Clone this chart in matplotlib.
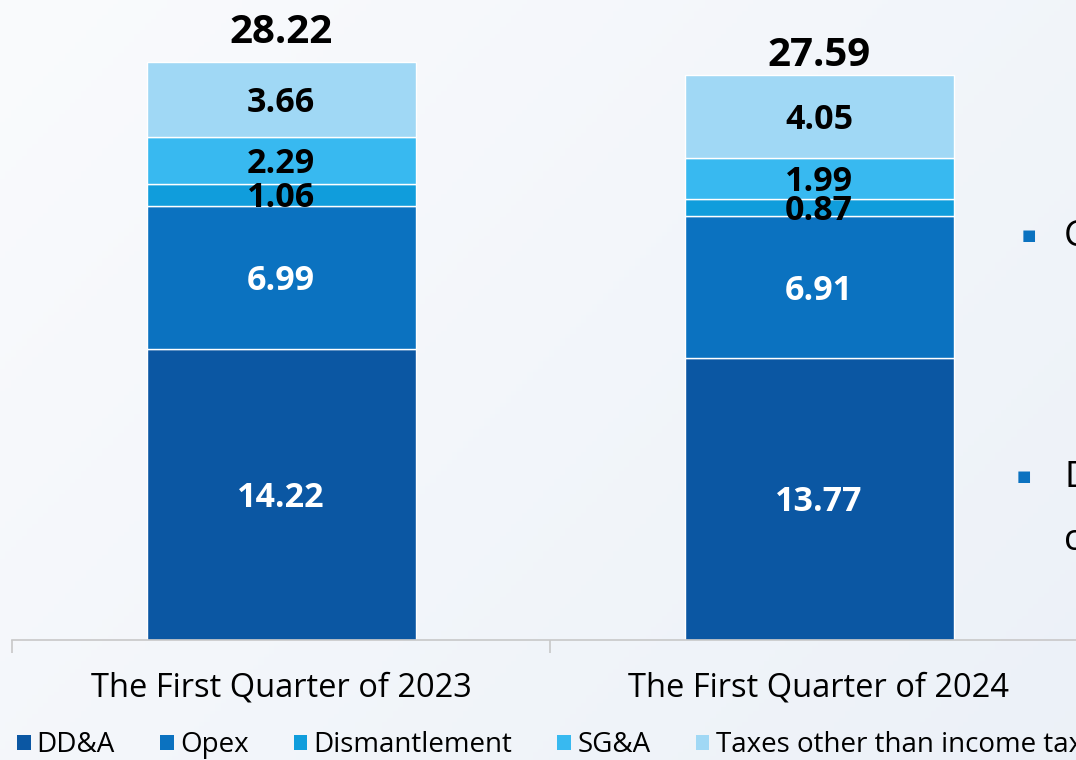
import matplotlib
matplotlib.use("Agg")
import matplotlib.pyplot as plt
import numpy as np
from matplotlib.patches import Patch

plt.rcParams['font.family'] = ['Open Sans', 'DejaVu Sans']

categories = ["The First Quarter of 2023", "The First Quarter of 2024"]
series_names = ["DD&A", "Opex", "Dismantlement", "SG&A", "Taxes other than income tax"]
dda = [14.22, 13.77]
opex = [6.99, 6.91]
dismantlement = [1.06, 0.87]
sga = [2.29, 1.99]
taxes = [3.66, 4.05]
totals = [28.22, 27.59]

colors = ["#0B57A3", "#0B72C0", "#109DDC", "#38B9F0", "#A0D8F5"]
label_colors = ["white", "white", "black", "black", "black"]

W, H = 1076, 760
fig = plt.figure(figsize=(W / 100, H / 100), dpi=100)

# background gradient
bg = fig.add_axes([0, 0, 1, 1], zorder=-10)
gx = np.linspace(0, 1, 200)
gy = np.linspace(0, 1, 200)
GX, GY = np.meshgrid(gx, gy)
t = (GX * 0.6 + GY * 0.4)
c0 = np.array([0.980, 0.984, 0.992])
c1 = np.array([0.925, 0.945, 0.972])
img = c0[None, None, :] * (1 - t[..., None]) + c1[None, None, :] * t[..., None]
bg.imshow(img, aspect='auto', extent=[0, 1, 0, 1], origin='upper')
bg.axis('off')

# main axes: baseline at y=640 px, category span 538 px starting at x=12
ax = fig.add_axes([12 / W, (H - 640) / H, 1076 / W, 640 / H])
ax.patch.set_alpha(0)
ymax = 640 / (578 / 28.22)
ax.set_ylim(0, ymax)
ax.set_xlim(0, 2)

x = np.array([0.5, 1.5])
series = [dda, opex, dismantlement, sga, taxes]
bottom = np.zeros(2)
for vals, col, lc in zip(series, colors, label_colors):
    vals = np.array(vals)
    ax.bar(x, vals, width=0.5, bottom=bottom, color=col,
           edgecolor='white', linewidth=1.0, zorder=2)
    for xi, b, v in zip(x, bottom, vals):
        ax.annotate(f"{v:.2f}", (xi, b + v / 2), xytext=(0, -2.5), textcoords='offset points',
                    ha='center', va='center', fontsize=24.5, fontweight='bold', color=lc, zorder=3)
    bottom = bottom + vals

total_offsets = [21, 14]
for xi, tv, off in zip(x, totals, total_offsets):
    ax.annotate(f"{tv:.2f}", (xi, tv), xytext=(0, off), textcoords='offset points',
                ha='center', va='center', fontsize=29, fontweight='bold', color='black')

for s in ['top', 'right', 'left']:
    ax.spines[s].set_visible(False)
ax.spines['bottom'].set_color('#C8C8C8')
ax.spines['bottom'].set_linewidth(1.2)
ax.set_yticks([])
ax.set_xticks([0, 1, 2])
ax.set_xticklabels([])
ax.tick_params(axis='x', length=9, width=1.2, color='#C8C8C8', direction='out')
ax.set_xticks(x, minor=True)
ax.set_xticklabels(categories, minor=True, fontsize=23.5, color='black')
ax.tick_params(axis='x', which='minor', length=0, pad=23)

handles = [Patch(facecolor=c, edgecolor='none') for c in colors]
fig.legend(handles, series_names, loc='lower left', bbox_to_anchor=(0.0, -0.021),
           ncol=5, frameon=False, fontsize=20, handlelength=0.5, handleheight=0.5,
           handletextpad=0.22, columnspacing=1.62, borderaxespad=0.2)

# partially visible side text from the slide
fig.text(1022 / W, 1 - 237 / H, "■", fontsize=11, color="#0B72C0", ha='left', va='center')
fig.text(1064 / W, 1 - 237 / H, "C", fontsize=26, color="black", ha='left', va='center')
fig.text(1017 / W, 1 - 478 / H, "■", fontsize=11, color="#0B72C0", ha='left', va='center')
fig.text(1064 / W, 1 - 478 / H, "D", fontsize=26, color="black", ha='left', va='center')
fig.text(1064 / W, 1 - 541 / H, "c", fontsize=26, color="black", ha='left', va='center')

fig.savefig("out.png", dpi=100)
